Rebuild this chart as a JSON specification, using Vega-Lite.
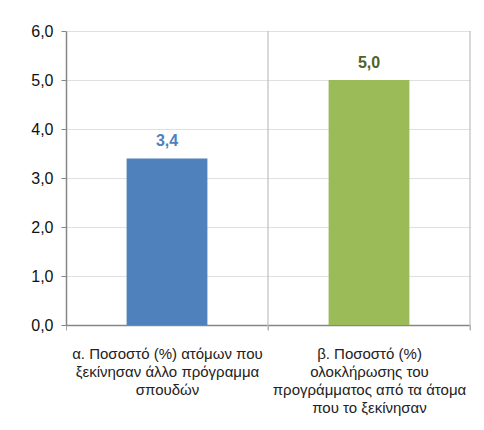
{
  "$schema": "https://vega.github.io/schema/vega-lite/v6.json",
  "width": 404,
  "height": 294,
  "autosize": {"type": "none"},
  "padding": {"left": 66, "top": 31, "right": 14, "bottom": 105},
  "background": "white",
  "config": {
    "locale": {"number": {"decimal": ",", "thousands": ".", "grouping": [3], "currency": ["", " €"]}},
    "font": "Liberation Sans",
    "view": {"stroke": null}
  },
  "data": {
    "values": [
      {"cat": "α. Ποσοστό (%) ατόμων που|ξεκίνησαν άλλο πρόγραμμα|σπουδών", "value": 3.4},
      {"cat": "β. Ποσοστό (%)|ολοκλήρωσης του|προγράμματος από τα άτομα|που το ξεκίνησαν", "value": 5.0}
    ]
  },
  "encoding": {
    "x": {
      "field": "cat",
      "type": "nominal",
      "sort": null,
      "scale": {"paddingInner": 0, "paddingOuter": 0},
      "axis": {
        "title": null,
        "labelAngle": 0,
        "labelExpr": "split(datum.label, '|')",
        "labelFont": "Liberation Sans",
        "labelFontSize": 15,
        "labelColor": "#222222",
        "labelLineHeight": 18,
        "labelBaseline": "top",
        "labelPadding": 16,
        "labelLimit": 300,
        "bandPosition": 0,
        "tickBand": "extent",
        "tickSize": 5,
        "tickColor": "#a6a6a6",
        "domainColor": "#868686",
        "domainWidth": 1.5,
        "grid": false
      }
    }
  },
  "layer": [
    {
      "mark": {"type": "bar", "width": {"band": 0.4}},
      "encoding": {
        "y": {
          "field": "value",
          "type": "quantitative",
          "scale": {"domain": [0, 6]},
          "axis": {
            "title": null,
            "values": [0, 1, 2, 3, 4, 5, 6],
            "format": ".1f",
            "labelFont": "Liberation Sans",
            "labelFontSize": 16,
            "labelColor": "#111111",
            "labelPadding": 8,
            "tickSize": 5,
            "tickColor": "#868686",
            "domainColor": "#868686",
            "domainWidth": 1.5,
            "gridColor": "#e0e0e0",
            "gridWidth": 1.2
          }
        },
        "color": {
          "field": "cat",
          "type": "nominal",
          "sort": null,
          "scale": {"range": ["#4f81bd", "#9bbb59"]},
          "legend": null
        }
      }
    },
    {
      "mark": {"type": "rule", "color": "#bfbfbf", "strokeWidth": 1.2},
      "encoding": {
        "x": {"field": "cat", "type": "nominal", "sort": null, "bandPosition": 1},
        "y": {"datum": 6},
        "y2": {"datum": -0.102}
      }
    },
    {
      "mark": {"type": "text", "dy": -17, "fontSize": 16, "fontWeight": "bold", "font": "Liberation Sans"},
      "encoding": {
        "y": {"field": "value", "type": "quantitative"},
        "text": {"field": "value", "type": "quantitative", "format": ".1f"},
        "color": {
          "field": "cat",
          "type": "nominal",
          "sort": null,
          "scale": {"range": ["#4f81bd", "#4f6228"]},
          "legend": null
        }
      }
    }
  ],
  "resolve": {"scale": {"color": "independent"}}
}
